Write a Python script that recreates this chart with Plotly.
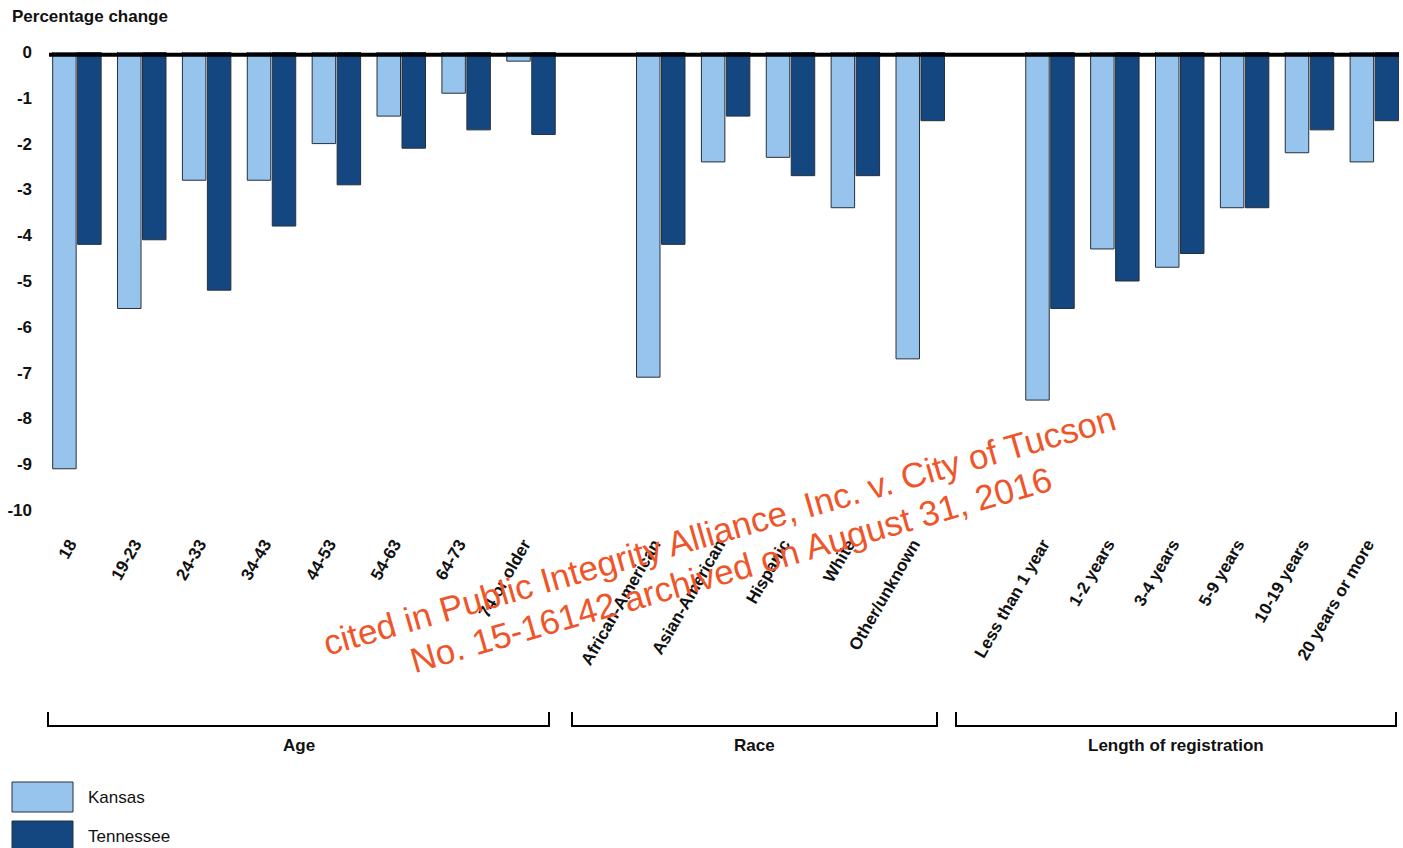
import plotly.graph_objects as go

# ---------------- data ----------------
age_labels = ["18", "19-23", "24-33", "34-43", "44-53", "54-63", "64-73", "74 or older"]
age_kansas = [-9.1, -5.6, -2.8, -2.8, -2.0, -1.4, -0.9, -0.2]
age_tennessee = [-4.2, -4.1, -5.2, -3.8, -2.9, -2.1, -1.7, -1.8]

race_labels = ["African-American", "Asian-American", "Hispanic", "White", "Other/unknown"]
race_kansas = [-7.1, -2.4, -2.3, -3.4, -6.7]
race_tennessee = [-4.2, -1.4, -2.7, -2.7, -1.5]

reg_labels = ["Less than 1 year", "1-2 years", "3-4 years", "5-9 years", "10-19 years", "20 years or more"]
reg_kansas = [-7.6, -4.3, -4.7, -3.4, -2.2, -2.4]
reg_tennessee = [-5.6, -5.0, -4.4, -3.4, -1.7, -1.5]

group_names = ["Age", "Race", "Length of registration"]
series_names = ["Kansas", "Tennessee"]
y_ticks = [0, -1, -2, -3, -4, -5, -6, -7, -8, -9, -10]
watermark_lines = ["cited in Public Integrity Alliance, Inc. v. City of Tucson",
                   "No. 15-16142 archived on August 31, 2016"]

# ---------------- build positions (one empty slot between groups) ----------------
groups = [(age_labels, age_kansas, age_tennessee),
          (race_labels, race_kansas, race_tennessee),
          (reg_labels, reg_kansas, reg_tennessee)]
xs, labels, kansas, tennessee = [], [], [], []
pos = 0
for lab, k, t in groups:
    for i in range(len(lab)):
        xs.append(pos)
        labels.append(lab[i])
        kansas.append(k[i])
        tennessee.append(t[i])
        pos += 1
    pos += 1

# ---------------- styling ----------------
W, H = 1403, 848
L, R, T, B = 49, 4, 52, 338
PW, PH = W - L - R, H - T - B
FONT = "Liberation Sans, Arial, Helvetica, sans-serif"
C_K = "#97C4EC"
C_T = "#14467F"
OUTLINE = "#26303c"


def px_x(p):
    return (p - L) / PW


def px_y(p):
    return (H - B - p) / PH


fig = go.Figure()
fig.add_trace(go.Bar(x=xs, y=kansas, name=series_names[0], marker=dict(color=C_K, line=dict(color=OUTLINE, width=1))))
fig.add_trace(go.Bar(x=xs, y=tennessee, name=series_names[1], marker=dict(color=C_T, line=dict(color=OUTLINE, width=1))))

shapes = []
# zero line
shapes.append(dict(type="line", xref="paper", yref="paper", x0=0, x1=1, y0=px_y(54.7), y1=px_y(54.7),
                   line=dict(color="black", width=4), layer="above"))
# group brackets
bracket_px = [(48, 549), (572, 937), (956, 1396)]
annotations = []
for (a, b), name in zip(bracket_px, group_names):
    shapes.append(dict(type="path", xref="paper", yref="paper",
                       path=f"M {px_x(a)},{px_y(712)} L {px_x(a)},{px_y(726)} L {px_x(b)},{px_y(726)} L {px_x(b)},{px_y(712)}",
                       line=dict(color="black", width=2)))
    annotations.append(dict(x=px_x((a + b) / 2), y=px_y(745), xref="paper", yref="paper", text=name,
                            showarrow=False, xanchor="center", yanchor="middle",
                            font=dict(family=FONT, size=17, color="#111", weight="bold")))

# legend (drawn manually to match the large swatches)
for (y0, y1, ty), name, col in zip([(782, 812, 797), (821, 851, 836)], series_names, [C_K, C_T]):
    shapes.append(dict(type="rect", xref="paper", yref="paper", x0=px_x(12), x1=px_x(73),
                       y0=px_y(y1), y1=px_y(y0), fillcolor=col, line=dict(color=OUTLINE, width=1)))
    annotations.append(dict(x=px_x(86), y=px_y(ty), xref="paper", yref="paper", text=name, showarrow=False,
                            xanchor="left", yanchor="middle", font=dict(family=FONT, size=17, color="#111")))

# axis title
annotations.append(dict(x=px_x(10), y=px_y(17), xref="paper", yref="paper", text="Percentage change",
                        showarrow=False, xanchor="left", yanchor="middle",
                        font=dict(family=FONT, size=17, color="#111", weight="bold")))

# watermark (two rotated lines)
for txt, (cx, cy) in zip(watermark_lines, [(719, 530), (731, 569)]):
    annotations.append(dict(x=px_x(cx), y=px_y(cy), xref="paper", yref="paper", text=txt,
                            showarrow=False, xanchor="center", yanchor="middle", textangle=-16,
                            font=dict(family=FONT, size=35, color="#EF5529")))

fig.update_layout(
    width=W, height=H,
    margin=dict(l=L, r=R, t=T, b=B, autoexpand=False),
    paper_bgcolor="white", plot_bgcolor="white",
    barmode="group", bargap=0.23, bargroupgap=0.06,
    showlegend=False,
    shapes=shapes, annotations=annotations,
    xaxis=dict(range=[-0.43, 20.38], tickmode="array", tickvals=xs, ticktext=labels, tickangle=-60,
               showgrid=False, zeroline=False, showline=False, ticks="", ticklabelstandoff=20,
               ticklabelshift=-7,
               tickfont=dict(family=FONT, size=17, color="#111", weight="bold"), automargin=False),
    yaxis=dict(range=[-10, 0], tickmode="array", tickvals=y_ticks, ticktext=[str(v) for v in y_ticks],
               showgrid=False, zeroline=False, showline=False, ticks="", ticklabelstandoff=16,
               tickfont=dict(family=FONT, size=17, color="#111", weight="bold"), automargin=False),
)

fig.write_html("out.html", config={"displayModeBar": False},
               post_script="document.body.style.margin='0px';")
